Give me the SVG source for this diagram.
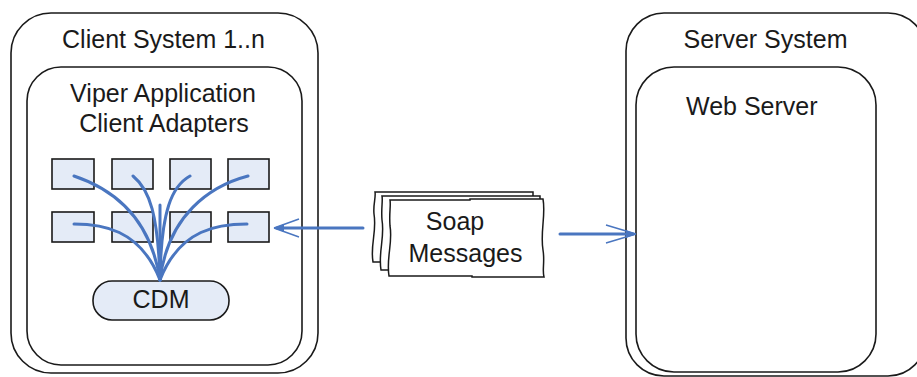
<svg xmlns="http://www.w3.org/2000/svg" width="917" height="377" viewBox="0 0 917 377">
  <style>
    .frame { fill: #ffffff; stroke: #1a1a1a; stroke-width: 1.6; }
    .adapter { fill: #e4ebf7; stroke: #1a1a1a; stroke-width: 1.6; }
    .page { fill: #ffffff; stroke: #1a1a1a; stroke-width: 1.5; }
    .label { font-family: "Liberation Sans", Arial, sans-serif; font-size: 25px; fill: #1a1a1a; }
    .flow { fill: none; stroke: #4a76c0; stroke-width: 3; stroke-linecap: round; }
    .head { fill: none; stroke: #4a76c0; stroke-width: 1.5; }
  </style>

  <rect width="917" height="377" fill="#ffffff"/>

  <!-- Client side -->
  <g id="client-system">
    <rect class="frame" x="11" y="13" width="307" height="360" rx="40" ry="40"/>
    <text class="label" x="163.5" y="48" text-anchor="middle">Client System 1..n</text>
  </g>
  <g id="viper-application">
    <rect class="frame" x="27" y="67" width="275" height="298" rx="34" ry="34"/>
    <text class="label" x="163" y="102" text-anchor="middle">Viper Application</text>
    <text class="label" x="164" y="132" text-anchor="middle">Client Adapters</text>
  </g>
  <g id="adapters">
    <rect class="adapter" x="52" y="159" width="42" height="30"/>
    <rect class="adapter" x="112" y="159" width="41" height="30"/>
    <rect class="adapter" x="170" y="159" width="41" height="30"/>
    <rect class="adapter" x="228" y="159" width="41" height="30"/>
    <rect class="adapter" x="52" y="212" width="42" height="30"/>
    <rect class="adapter" x="112" y="212" width="41" height="30"/>
    <rect class="adapter" x="170" y="212" width="41" height="30"/>
    <rect class="adapter" x="228" y="212" width="41" height="30"/>
  </g>
  <g id="cdm">
    <rect class="adapter" x="93" y="281" width="136" height="39" rx="19" ry="19"/>
    <text class="label" x="161" y="308" text-anchor="middle">CDM</text>
  </g>

  <!-- Soap messages -->
  <g id="soap-messages">
    <path class="page" d="M375,192 L533,192 L533,262 L373,262 C370,245 377,232 374,214 C373,204 376,198 375,192 Z"/>
    <path class="page" d="M382,196 L540,196 L540,270 L381,270 C378,252 385,238 382,220 C381,208 383,201 382,196 Z"/>
    <path class="page" d="M390,200 L470,200 L470,199 L543,199 C546,215 540,232 543,250 C545,262 542,270 544,277 L472,277 L472,276 L389,276 C386,258 393,243 390,226 C389,212 391,206 390,200 Z"/>
    <text class="label" x="455" y="230" text-anchor="middle">Soap</text>
    <text class="label" x="465.5" y="262" text-anchor="middle">Messages</text>
  </g>

  <!-- Server side -->
  <g id="server-system">
    <rect class="frame" x="626" y="13" width="300" height="363" rx="38" ry="38"/>
    <text class="label" x="765.5" y="48" text-anchor="middle">Server System</text>
  </g>
  <g id="web-server">
    <rect class="frame" x="636" y="67" width="240" height="305" rx="38" ry="38"/>
    <text class="label" x="686" y="115" font-size="24">Web Server</text>
  </g>

  <!-- Connectors -->
  <g id="connectors">
    <!-- adapters fanning into the CDM -->
    <path class="flow" d="M74,176 C110,188 150,215 160,280"/>
    <path class="flow" d="M133,176 C150,190 158,215 160,280"/>
    <path class="flow" d="M190,176 C172,186 161,210 160,280"/>
    <path class="flow" d="M248,176 C210,186 168,215 160,280"/>
    <path class="flow" d="M74,224 C100,224 140,228 160,280"/>
    <path class="flow" d="M247,224 C220,224 180,228 160,280"/>
    <path class="flow" d="M160,280 L160,205"/>
    <!-- soap messages delivered to the adapters -->
    <path class="flow" d="M363,228 L277,228"/>
    <path d="M274,228 L284,224 L284,232 Z" fill="#4a76c0"/>
    <path class="head" d="M274,228 L299,219 M274,228 L299,237"/>
    <!-- soap messages sent to the web server -->
    <path class="flow" d="M560,234 L633,234"/>
    <path d="M636,234 L626,230 L626,238 Z" fill="#4a76c0"/>
    <path class="head" d="M636,234 L606,225 M636,234 L606,243"/>
  </g>
</svg>
